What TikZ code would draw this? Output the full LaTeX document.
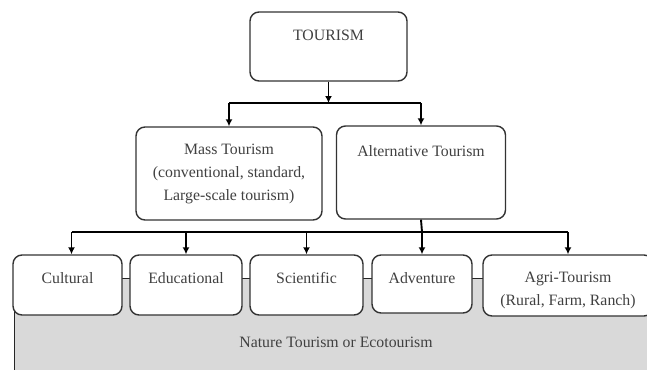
\documentclass[tikz,border=0pt]{standalone}
\usepackage{fontspec}
\setmainfont{Liberation Serif}
\usetikzlibrary{arrows.meta,calc}
\begin{document}
\begin{tikzpicture}[x=1pt,y=-1pt,
  box/.style={draw=black!80,line width=1.4pt,rounded corners=9pt,fill=white,inner sep=0pt},
  txt/.style={font=\fontsize{15.8}{23}\selectfont,text=black!75,align=center,inner sep=0pt},
  conn/.style={draw=black,line width=1.9pt},
  arr/.style={conn,-{Latex[length=7pt,width=7pt]}},
  eco/.style={draw=black!85,line width=1.4pt,fill=black!15,inner sep=0pt}]
\useasboundingbox (0,0) rectangle (647,369);
\clip (0,0) rectangle (647,369);
% nature / eco band
\node[eco,minimum width=660pt,minimum height=110pt,anchor=north west] (N) at (14,278) {};
\node[txt] (Nt) at (336,342) {Nature Tourism or Ecotourism};
% top
\node[box,minimum width=157pt,minimum height=69pt] (T) at (328.5,46.5) {};
\node[txt] (Tt) at (328.5,35) {TOURISM};
% second level
\node[box,minimum width=186pt,minimum height=93pt] (M) at (229,173.5) {};
\node[txt] (Mt) at (229,174) {Mass Tourism\\(conventional, standard,\\Large-scale tourism)};
\node[box,minimum width=169pt,minimum height=93pt] (A) at (421,172.5) {};
\node[txt] (At) at (421,151) {Alternative Tourism};
% third level
\node[box,minimum width=109pt,minimum height=60pt] (C) at (67.5,285) {};
\node[txt] (Ct) at (67.5,278) {Cultural};
\node[box,minimum width=112pt,minimum height=60pt] (E) at (186,285) {};
\node[txt] (Et) at (186,278) {Educational};
\node[box,minimum width=113pt,minimum height=60pt] (S) at (306.5,285) {};
\node[txt] (St) at (306.5,278) {Scientific};
\node[box,minimum width=100pt,minimum height=58pt] (V) at (422,284) {};
\node[txt] (Vt) at (422,278) {Adventure};
\node[box,minimum width=170pt,minimum height=61pt] (G) at (568,285.5) {};
\node[txt] (Gt) at (568,290) {Agri-Tourism\\(Rural, Farm, Ranch)};
% connectors level 1
\coordinate (j1) at (328.5,103);
\draw[arr] (T.south) -- (j1);
\draw[conn] (j1 -| M.north) -- (j1 -| A.north);
\draw[arr] (j1 -| M.north) -- (M.north);
\draw[arr] (j1 -| A.north) -- (A.north);
% connectors level 2
\coordinate (j2) at (422,232);
\coordinate (cC) at ($(C.north)+(4,0)$);
\draw[conn] (j2 -| cC) -- (j2 -| G.north);
\draw[conn] (A.south) -- (j2);
\draw[arr] (j2 -| cC) -- (cC);
\draw[arr] (j2 -| E.north) -- (E.north);
\draw[arr] (j2 -| S.north) -- (S.north);
\draw[arr] (j2) -- (V.north);
\draw[arr] (j2 -| G.north) -- (G.north);
\end{tikzpicture}
\end{document}
